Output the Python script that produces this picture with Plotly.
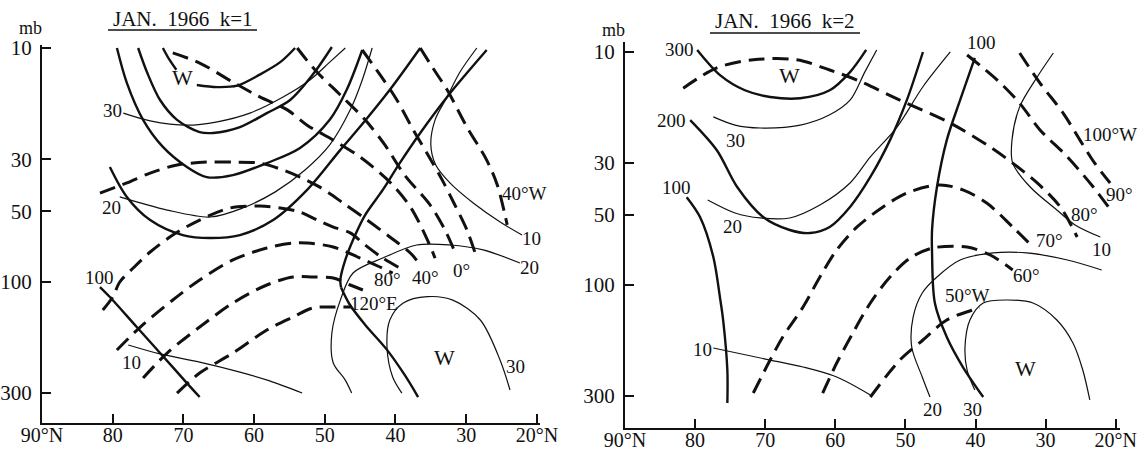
import numpy as np
import plotly.graph_objects as go

# ---------------- DATA (latitude °N, pressure mb) ----------------
# ===== Panel k=1 =====
# geopotential amplitude (thick solid)
K1_H500A = [(72.9, 10.0), (72.0, 11.2), (71.0, 12.4)]
K1_H500B = [(68.1, 14.4), (65.2, 14.7), (62.4, 14.5), (59.2, 13.0), (56.3, 11.5), (54.2, 10.0)]
K1_H400 = [(76.4, 10.0), (75.1, 12.8), (73.3, 16.7), (70.9, 20.3), (67.7, 22.9), (65.8, 23.1),
           (62.0, 21.8), (58.2, 19.0), (54.9, 16.7), (51.7, 13.0), (49.0, 9.9)]
K1_H300 = [(79.4, 10.0), (78.0, 14.1), (75.7, 20.3), (72.9, 26.5), (69.5, 32.3), (66.7, 35.7),
           (63.0, 35.0), (58.2, 31.1), (53.5, 26.8), (49.3, 20.3), (46.9, 15.1), (44.7, 10.2)]
K1_H200 = [(80.4, 32.3), (78.0, 43.4), (74.7, 54.5), (70.1, 63.2), (66.2, 65.1), (62.0, 63.2),
           (57.3, 54.5), (52.5, 40.5), (47.8, 27.3), (44.6, 21.0), (40.8, 15.1), (36.5, 10.0)]
K1_H100A = [(27.1, 10.2), (29.9, 12.8), (32.7, 16.2), (36.5, 23.1), (39.4, 31.1), (41.8, 40.5),
            (44.3, 51.9), (45.7, 63.2), (47.1, 80.8), (47.8, 98.4), (47.7, 106)]
K1_H100A2 = [(47.7, 106), (46.5, 125), (44.3, 153), (41.2, 196), (38.7, 251), (36.8, 312)]
K1_H100B = [(81.8, 105.5), (80.4, 116.4), (76.6, 156.5), (73.3, 202), (69.5, 272), (67.7, 312)]
# temperature amplitude (thin solid)
K1_T30 = [(78.5, 19.0), (74.7, 20.5), (69.5, 21.4), (65.2, 20.7), (60.6, 19.0), (55.9, 16.2),
          (52.1, 13.7), (49.3, 11.5), (47.1, 10.0)]
K1_T20 = [(79.0, 43.4), (72.3, 49.4), (66.2, 52.9), (61.6, 48.4), (57.0, 41.3), (52.8, 33.3),
          (49.3, 26.0), (46.4, 18.4), (44.7, 13.7), (43.3, 10.0)]
K1_T10A = [(28.5, 10.0), (30.9, 12.7), (32.7, 16.2), (34.4, 20.3), (35.0, 26.0), (34.3, 31.7),
           (32.3, 37.8), (29.0, 46.1), (25.2, 55.6), (22.1, 63.2)]
K1_T10B = [(77.8, 186.8), (73.3, 204), (67.7, 221), (62.0, 244), (57.8, 266), (53.2, 300)]
K1_T20B = [(22.4, 83.2), (27.6, 73.2), (32.3, 69.7), (37.0, 69.7), (41.8, 79.3), (46.0, 91.9),
           (47.8, 120), (49.0, 166), (48.8, 223), (47.1, 264), (46.2, 300)]
K1_T30B = [(23.8, 291), (25.2, 217), (28.0, 146), (31.9, 120), (35.5, 116), (38.9, 123.5),
           (40.8, 146), (41.2, 190.5), (40.4, 256), (39.1, 300)]
# phase lines (thick dashed)
K1_P40W = [(36.5, 10.0), (34.7, 12.2), (32.7, 15.1), (29.9, 21.8), (27.1, 30.2), (25.6, 38.6), (24.2, 57.2)]
K1_P20W = [(44.7, 10.2), (42.2, 13.0), (39.8, 16.7), (37.5, 22.4), (35.4, 28.7), (33.4, 36.7),
           (31.6, 47.0), (29.9, 60.1), (28.5, 79.3)]
K1_P0 = [(53.9, 10.0), (51.4, 12.4), (47.8, 15.9), (44.3, 20.3), (41.5, 26.0), (38.7, 35.0),
         (35.1, 47.0), (33.0, 60.1), (31.6, 74.7)]
K1_P20E = [(71.5, 10.5), (67.7, 11.6), (63.0, 14.0), (59.2, 16.2), (55.3, 18.4), (52.5, 21.4),
           (48.8, 24.8), (45.0, 29.3), (40.8, 37.5), (37.9, 47.9), (35.8, 63.2), (34.4, 79.3)]
K1_P40E = [(81.8, 41.8), (78.0, 37.8), (74.7, 34.3), (70.9, 31.7), (66.7, 30.8), (63.0, 30.8),
           (59.2, 31.1), (55.9, 33.3), (53.5, 35.7), (50.7, 39.4), (47.4, 46.1), (44.0, 54.5),
           (40.8, 64.4), (37.9, 75.4), (36.5, 84.9)]
K1_P60E = [(81.4, 132.3), (80.0, 116.4), (79.0, 100.4), (77.1, 87.5), (74.7, 74.7), (71.5, 63.2),
           (67.7, 54.5), (63.4, 48.4), (59.2, 47.5), (56.3, 48.4), (53.5, 50.4), (51.1, 54.5),
           (48.8, 58.4), (46.4, 61.9), (44.3, 69.7), (41.8, 79.3), (39.4, 87.5)]
K1_P80E = [(79.4, 196.3), (76.1, 156.5), (71.5, 119.9), (67.7, 98.4), (63.0, 80.8), (58.2, 71.8),
           (54.5, 68.4), (52.5, 68.4), (48.8, 71.1), (45.0, 79.3), (42.2, 86.6), (40.4, 91.9)]
K1_P100E = [(75.7, 258.7), (72.3, 202.2), (67.7, 156.5), (63.0, 123.5), (58.2, 103.4), (54.5, 95.6),
            (51.7, 95.6), (48.8, 96.5), (46.4, 103.4), (43.9, 110.8)]
K1_P120E = [(70.9, 300), (67.7, 246.2), (63.0, 202.2), (58.2, 161.2), (54.5, 141.8), (51.7, 129.7),
            (48.6, 128.5), (46.2, 128.5)]
K1_LABELS = [("500", 56.1, 8.97), ("400", 49.1, 9.06), ("300", 44.2, 9.06), ("200", 36.7, 9.0),
             ("100", 27.1, 9.06), ("W", 70.1, 13.4), ("30", 80.0, 18.6), ("20", 80.1, 48.4),
             ("100", 81.8, 95.6), ("10", 77.3, 220.9), ("40°W", 21.7, 41.8), ("10", 20.8, 65.1),
             ("20", 21.0, 86.6), ("0°", 30.6, 89.2), ("40°", 35.8, 95.6), ("80°", 41.1, 98.4),
             ("120°E", 43.0, 123.5), ("W", 33.0, 212), ("30", 23.0, 232)]

# ===== Panel k=2 =====
K2_H300 = [(79.7, 9.8), (76.4, 12.6), (72.9, 14.6), (69.3, 15.6), (65.0, 15.8), (60.8, 14.6),
           (57.9, 12.2), (55.6, 9.8)]
K2_H200 = [(80.7, 19.6), (76.9, 26.4), (74.0, 38.0), (70.3, 51.1), (66.5, 58.1), (63.6, 59.9),
           (60.8, 56.4), (57.9, 46.3), (55.0, 34.4), (52.2, 23.9), (49.8, 16.1), (47.5, 10.0)]
K2_H100A = [(40.1, 10.6), (42.2, 16.1), (44.1, 23.9), (45.5, 38.0), (46.2, 58.1), (46.2, 72.9),
            (45.8, 119.6), (44.1, 167.4), (41.8, 225.2), (38.9, 302.9)]
K2_H100B = [(81.2, 42.0), (79.3, 51.1), (77.4, 75.9), (76.4, 116.1), (76.0, 141.5), (75.4, 232.0),
            (75.4, 321.4)]
K2_T30 = [(77.4, 19.0), (74.3, 20.6), (70.7, 21.2), (65.0, 20.6), (60.8, 18.6), (57.9, 16.1),
          (55.8, 12.2), (54.1, 9.8)]
K2_T20 = [(78.2, 43.2), (74.3, 49.1), (70.7, 51.6), (66.5, 51.6), (62.2, 45.4), (57.9, 36.5),
          (55.0, 28.2), (51.2, 21.0), (47.5, 14.1), (43.6, 10.0)]
K2_T10A = [(28.9, 10.1), (31.2, 12.8), (33.7, 17.2), (34.8, 23.9), (34.7, 30.0), (32.2, 38.0),
           (28.4, 47.7), (25.8, 55.3), (22.2, 62.3)]
K2_T10B = [(77.4, 186.6), (69.3, 210.2), (64.6, 225.2), (59.8, 248.6), (55.0, 297.0)]
K2_T20B = [(46.5, 302.9), (47.6, 248.6), (49.1, 184.8), (48.9, 137.4), (47.6, 108.3), (45.5, 92.5),
           (42.2, 78.2), (37.5, 72.9), (32.7, 72.9), (26.9, 78.2), (22.0, 86.3)]
K2_T30B = [(40.1, 282.7), (41.2, 232.0), (41.5, 184.8), (40.8, 141.5), (38.9, 119.6), (35.5, 116.1),
           (31.8, 119.6), (28.4, 141.5), (26.1, 177.6), (24.7, 232.0), (23.7, 311.9)]
K2_P100W = [(33.7, 10.1), (30.8, 13.6), (27.5, 18.3), (25.1, 23.9), (23.0, 30.0), (20.8, 36.5)]
K2_P90 = [(41.2, 10.3), (36.9, 13.2), (33.7, 16.6), (30.8, 21.6), (26.9, 28.2), (23.2, 38.0), (20.4, 49.1)]
K2_P80 = [(81.7, 14.3), (76.9, 11.7), (71.7, 10.8), (65.5, 10.8), (60.8, 11.95), (56.9, 13.2),
          (50.8, 16.1), (43.6, 20.2), (37.9, 25.6), (34.7, 30.0), (31.2, 36.5), (27.9, 46.3), (25.5, 62.3)]
K2_P70 = [(71.7, 291.2), (69.3, 210.2), (67.5, 167.4), (64.6, 124.4), (62.2, 92.5), (59.8, 70.8),
          (56.9, 56.4), (53.2, 46.3), (49.8, 40.3), (45.1, 37.2), (41.8, 39.1), (38.4, 44.5),
          (34.7, 56.4), (31.8, 68.8)]
K2_P60 = [(61.8, 291.2), (59.8, 216.5), (57.5, 160.9), (55.0, 119.6), (52.2, 92.5), (49.3, 76.6),
          (46.1, 69.4), (41.2, 68.8), (37.9, 74.4), (34.7, 86.3)]
K2_P50W = [(55.0, 302.9), (50.8, 210.2), (47.5, 172.4), (44.1, 141.5), (40.4, 128.2), (39.4, 125.7)]
K2_LABELS = [("300", 82.2, 9.8), ("200", 83.3, 19.6), ("100", 82.6, 38.0), ("30", 74.3, 23.9),
             ("20", 74.7, 56.4), ("10", 79.0, 190.3), ("100", 39.1, 9.06), ("100°W", 20.8, 22.7),
             ("90°", 19.4, 41.1), ("80°", 24.4, 50.1), ("70°", 29.4, 64.2), ("10", 22.0, 70.8),
             ("60°", 32.7, 90.7), ("50°W", 41.1, 110.5), ("20", 46.2, 344), ("30", 40.5, 344),
             ("W", 66.5, 12.6), ("W", 32.9, 227.5)]

X_TICKS = [90, 80, 70, 60, 50, 40, 30, 20]
X_TICKTEXT = ["90°N", "80", "70", "60", "50", "40", "30", "20°N"]
Y_TICKS = [10, 30, 50, 100, 300]
TITLES = ["JAN.  1966  k=1", "JAN.  1966  k=2"]

# ---------------- STYLE ----------------
INK = "#111111"
SERIF = "Liberation Serif, Times New Roman, serif"
THICK = dict(color=INK, width=2.4)
THIN = dict(color=INK, width=1.2)
DASH = dict(color=INK, width=3.0, dash="16px,8px")

PANEL1 = dict(
    thick=[K1_H500A, K1_H500B, K1_H400, K1_H300, K1_H200, K1_H100A, K1_H100A2, K1_H100B],
    thin=[K1_T30, K1_T20, K1_T10A, K1_T10B, K1_T20B, K1_T30B],
    dash=[K1_P40W, K1_P20W, K1_P0, K1_P20E, K1_P40E, K1_P60E, K1_P80E, K1_P100E, K1_P120E],
    labels=K1_LABELS)
PANEL2 = dict(
    thick=[K2_H300, K2_H200, K2_H100A, K2_H100B],
    thin=[K2_T30, K2_T20, K2_T10A, K2_T10B, K2_T20B, K2_T30B],
    dash=[K2_P100W, K2_P90, K2_P80, K2_P70, K2_P60, K2_P50W],
    labels=K2_LABELS)

W, H = 1144, 452
fig = go.Figure()


def add_line(pts, style, xa, ya):
    lat = [p[0] for p in pts]
    pr = [p[1] for p in pts]
    fig.add_trace(go.Scatter(x=lat, y=pr, mode="lines", line=dict(shape="spline", smoothing=0.9, **style),
                             xaxis=xa, yaxis=ya, hoverinfo="skip", showlegend=False))


for idx, panel in enumerate([PANEL1, PANEL2]):
    xa = "x" if idx == 0 else "x2"
    ya = "y" if idx == 0 else "y2"
    for pts in panel["thin"]:
        add_line(pts, THIN, xa, ya)
    for pts in panel["thick"]:
        add_line(pts, THICK, xa, ya)
    for pts in panel["dash"]:
        add_line(pts, DASH, xa, ya)
    for txt, lat, pr in panel["labels"]:
        size = 22 if txt == "W" else 19
        fig.add_annotation(x=lat, y=np.log10(pr), xref=xa, yref=ya, text=txt, showarrow=False,
                           xanchor="center", yanchor="middle",
                           font=dict(family=SERIF, size=size, color=INK))

# axis geometry (pixels of the page)
geo = [
    dict(x0=42, x1=540, top=45, bottom=423, lat_right=19.56, logtop=0.9872, logbot=2.6053),
    dict(x0=625, x1=1120, top=42, bottom=428, lat_right=19.39, logtop=0.9571, logbot=2.6144),
]
axbase = dict(showline=True, linecolor=INK, linewidth=2, ticks="inside", ticklen=9, tickwidth=1.6,
              tickcolor=INK, showgrid=False, zeroline=False, automargin=False)
for i, g in enumerate(geo):
    sfx = "" if i == 0 else "2"
    fig.update_layout(**{
        "xaxis" + sfx: dict(domain=[g["x0"] / W, g["x1"] / W], range=[90, g["lat_right"]],
                            tickvals=X_TICKS, ticktext=X_TICKTEXT, anchor="y" + sfx,
                            ticklabelstandoff=-7, tickfont=dict(family=SERIF, size=20, color=INK),
                            **axbase),
        "yaxis" + sfx: dict(domain=[1 - g["bottom"] / H, 1 - g["top"] / H], type="log",
                            range=[g["logbot"], g["logtop"]], tickvals=Y_TICKS,
                            ticktext=[str(v) for v in Y_TICKS], anchor="x" + sfx,
                            ticklabelstandoff=4, tickfont=dict(family=SERIF, size=21, color=INK),
                            **axbase),
    })

# titles with underline, "mb" unit labels
title_px = [(108, 257, 19, 30), (710, 860, 21, 33)]
for (xa_, xb_, yt, yu), t in zip(title_px, TITLES):
    fig.add_annotation(x=(xa_ + xb_) / 2 / W, y=1 - yt / H, xref="paper", yref="paper", text=t,
                       showarrow=False, xanchor="center", yanchor="middle",
                       font=dict(family=SERIF, size=21, color=INK))
    fig.add_shape(type="line", xref="paper", yref="paper", x0=xa_ / W, x1=xb_ / W,
                  y0=1 - yu / H, y1=1 - yu / H, line=dict(color=INK, width=1.5))
for mx, my in [(30, 28), (613, 30)]:
    fig.add_annotation(x=mx / W, y=1 - my / H, xref="paper", yref="paper", text="mb", showarrow=False,
                       xanchor="center", yanchor="middle",
                       font=dict(family=SERIF, size=18, color=INK))

fig.update_layout(width=W, height=H, margin=dict(l=0, r=0, t=0, b=0), plot_bgcolor="white",
                  paper_bgcolor="white", showlegend=False, hovermode=False)
fig.write_html("out.html", config={"displayModeBar": False},
               post_script="document.body.style.margin='0px';")
